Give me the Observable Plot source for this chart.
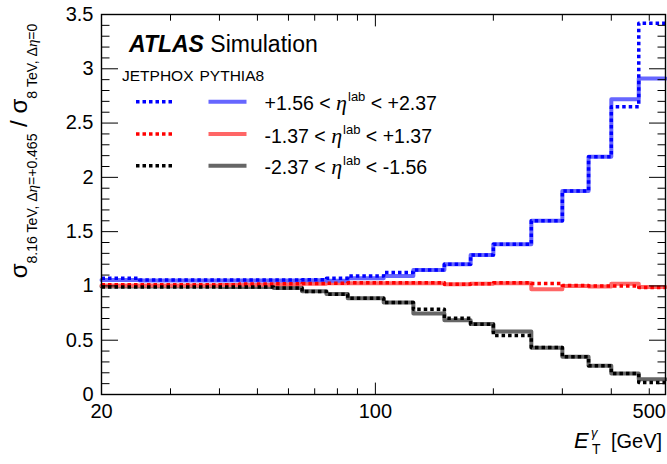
<!DOCTYPE html>
<html>
<head>
<meta charset="utf-8">
<script src="https://cdn.jsdelivr.net/npm/d3@7"></script>
<script src="https://cdn.jsdelivr.net/npm/@observablehq/plot@0.6"></script>
<style>
  html, body { margin: 0; padding: 0; background: #fff; }
  #chart { position: relative; width: 667px; height: 464px; }
  svg { font-family: "Liberation Sans", Arial, Helvetica, sans-serif; }
</style>
</head>
<body>
<div id="chart"></div>
<script>
// Bin edges in E_T^gamma [GeV]
const edges = [20, 25, 30, 35, 40, 45, 55, 65, 75, 85, 105, 125, 150, 175, 200, 250, 300, 350, 400, 470, 550];

// JETPHOX (dotted) and PYTHIA8 (solid) ratios, one value per bin
const jetphoxFwd = [1.07, 1.055, 1.055, 1.055, 1.055, 1.055, 1.055, 1.058, 1.07, 1.092, 1.123, 1.147, 1.2, 1.285, 1.385, 1.6, 1.875, 2.19, 2.65, 3.42];
const pythiaFwd  = [1.055, 1.05, 1.05, 1.05, 1.05, 1.05, 1.05, 1.052, 1.048, 1.07, 1.092, 1.147, 1.2, 1.285, 1.385, 1.6, 1.875, 2.19, 2.72, 2.91];
const jetphoxMid = [1.012, 1.012, 1.012, 1.012, 1.012, 1.018, 1.02, 1.022, 1.025, 1.03, 1.03, 1.03, 1.015, 1.02, 1.03, 1.022, 1.003, 1.0, 1.0, 0.985];
const pythiaMid  = [1.005, 1.005, 1.005, 1.005, 1.008, 1.012, 1.015, 1.02, 1.025, 1.025, 1.025, 1.025, 1.015, 1.02, 1.025, 0.97, 1.0, 0.995, 1.02, 0.99];
const jetphoxBwd = [0.99, 0.99, 0.99, 0.99, 0.99, 0.99, 0.98, 0.948, 0.923, 0.887, 0.847, 0.785, 0.703, 0.647, 0.544, 0.433, 0.347, 0.264, 0.193, 0.11];
const pythiaBwd  = [0.995, 0.995, 0.995, 0.995, 0.99, 0.99, 0.98, 0.95, 0.925, 0.887, 0.847, 0.745, 0.684, 0.65, 0.58, 0.43, 0.347, 0.264, 0.193, 0.14];

const legendLabels = ["+1.56 < ", "-1.37 < ", "-2.37 < "];
const legendUpper = [" < +2.37", " < +1.37", " < -1.56"];

// Tick values
const yMajor = [0, 0.5, 1, 1.5, 2, 2.5, 3, 3.5];
const yMinor = d3.range(0, 36).map(i => i / 10).filter(v => Math.abs(v * 2 - Math.round(v * 2)) > 1e-6);
const xLabels = [20, 100, 500];
const xMajorTicks = [100];
const xMinorTicks = [30, 40, 50, 60, 70, 80, 90, 200, 300, 400, 500];

const steps = vals => edges.map((e, i) => ({x: e, y: vals[Math.min(i, vals.length - 1)]}));

const dotted = {strokeWidth: 3.5, strokeDasharray: "3.5,3", strokeLinecap: "butt"};
const solid = {strokeWidth: 4};

const FONT = "Liberation Sans, Arial, Helvetica, sans-serif";
const SERIF = "Liberation Serif, Times New Roman, serif";

const svg = Plot.plot({
  width: 667,
  height: 464,
  marginLeft: 101,
  marginRight: 2,
  marginTop: 14,
  marginBottom: 70,
  style: {fontFamily: FONT, background: "white"},
  x: {type: "log", domain: [20, 550]},
  y: {domain: [0, 3.5]},
  marks: [
    Plot.line(steps(pythiaBwd), {x: "x", y: "y", curve: "step-after", stroke: "#666666", ...solid}),
    Plot.line(steps(pythiaMid), {x: "x", y: "y", curve: "step-after", stroke: "#ff6666", ...solid}),
    Plot.line(steps(pythiaFwd), {x: "x", y: "y", curve: "step-after", stroke: "#6666ff", ...solid}),
    Plot.line(steps(jetphoxMid), {x: "x", y: "y", curve: "step-after", stroke: "#ff0000", ...dotted}),
    Plot.line(steps(jetphoxFwd), {x: "x", y: "y", curve: "step-after", stroke: "#0000ff", ...dotted}),
    Plot.line(steps(jetphoxBwd), {x: "x", y: "y", curve: "step-after", stroke: "#000000", ...dotted}),
    // y ticks (inward), left and right
    Plot.axisY(yMajor, {anchor: "left", tickSize: -17, fill: "none", label: null}),
    Plot.axisY(yMinor, {anchor: "left", tickSize: -8.5, fill: "none", label: null}),
    Plot.axisY(yMajor, {anchor: "right", tickSize: -17, fill: "none", label: null}),
    Plot.axisY(yMinor, {anchor: "right", tickSize: -8.5, fill: "none", label: null}),
    Plot.axisY(yMajor, {anchor: "left", tickSize: 0, tickPadding: 8, tickFormat: d => String(d), fontSize: 20, label: null}),
    // x ticks (inward), bottom and top
    Plot.axisX(xMajorTicks, {anchor: "bottom", tickSize: -11.4, fill: "none", label: null}),
    Plot.axisX(xMinorTicks, {anchor: "bottom", tickSize: -5.7, fill: "none", label: null}),
    Plot.axisX(xMajorTicks, {anchor: "top", tickSize: -11.4, fill: "none", label: null}),
    Plot.axisX(xMinorTicks, {anchor: "top", tickSize: -5.7, fill: "none", label: null}),
    Plot.axisX(xLabels, {anchor: "bottom", tickSize: 0, tickPadding: 9, tickFormat: d => String(d), fontSize: 20, label: null}),
    Plot.frame({stroke: "black", strokeWidth: 1.4})
  ]
});

document.getElementById("chart").appendChild(svg);

const s = d3.select(svg);
const txt = () => s.append("text").attr("font-family", FONT).attr("fill", "black").attr("text-anchor", "start");

// Y-axis title
const yt = s.append("text")
  .attr("transform", "translate(27,151) rotate(-90)")
  .attr("text-anchor", "middle")
  .attr("font-family", FONT)
  .attr("fill", "black");
yt.append("tspan").attr("font-size", 24).text("σ");
const sub1 = yt.append("tspan").attr("font-size", 14).attr("dy", 10);
sub1.append("tspan").text("8.16 TeV, Δ");
sub1.append("tspan").attr("font-style", "italic").attr("font-family", SERIF).attr("font-size", 15).text("η");
sub1.append("tspan").text("=+0.465");
yt.append("tspan").attr("font-size", 24).attr("dy", -10).text(" / σ");
const sub2 = yt.append("tspan").attr("font-size", 14).attr("dy", 10);
sub2.append("tspan").text("8 TeV, Δ");
sub2.append("tspan").attr("font-style", "italic").attr("font-family", SERIF).attr("font-size", 15).text("η");
sub2.append("tspan").text("=0");

// X-axis title
const xt = txt().attr("y", 448).attr("font-size", 20);
xt.append("tspan").attr("x", 574).attr("font-style", "italic").attr("font-size", 22).text("E");
xt.append("tspan").attr("x", 592).attr("font-size", 14).attr("dy", 6).text("T");
xt.append("tspan").attr("x", 591).attr("font-size", 13).attr("dy", -17).attr("font-style", "italic").text("γ");
xt.append("tspan").attr("x", 611).attr("dy", 11).text("[GeV]");

// ATLAS Simulation
const at = txt().attr("x", 129).attr("y", 52).attr("font-size", 23);
at.append("tspan").attr("font-weight", "bold").attr("font-style", "italic").text("ATLAS");
at.append("tspan").text(" Simulation");

// Legend headers
txt().attr("x", 122).attr("y", 81).attr("font-size", 15.5).text("JETPHOX");
txt().attr("x", 199.5).attr("y", 81).attr("font-size", 15.5).text("PYTHIA8");

// Legend rows
const rowY = [101.7, 134, 165.7];
const dotCol = ["#0000ff", "#ff0000", "#000000"];
const solCol = ["#6666ff", "#ff6666", "#666666"];
rowY.forEach((y, i) => {
  s.append("line").attr("x1", 136).attr("x2", 172).attr("y1", y).attr("y2", y)
    .attr("stroke", dotCol[i]).attr("stroke-width", 3.5).attr("stroke-dasharray", "3.5,3");
  s.append("line").attr("x1", 208.5).attr("x2", 246.5).attr("y1", y).attr("y2", y)
    .attr("stroke", solCol[i]).attr("stroke-width", 4);
  const t = txt().attr("x", 264.5).attr("y", y + 8.5).attr("font-size", 19.5);
  t.append("tspan").text(legendLabels[i]);
  t.append("tspan").attr("font-style", "italic").attr("font-family", SERIF).attr("font-size", 22).text("η");
  t.append("tspan").attr("font-size", 13).attr("dy", -9).attr("dx", 1).text("lab");
  t.append("tspan").attr("dy", 9).text(legendUpper[i]);
});
</script>
</body>
</html>
